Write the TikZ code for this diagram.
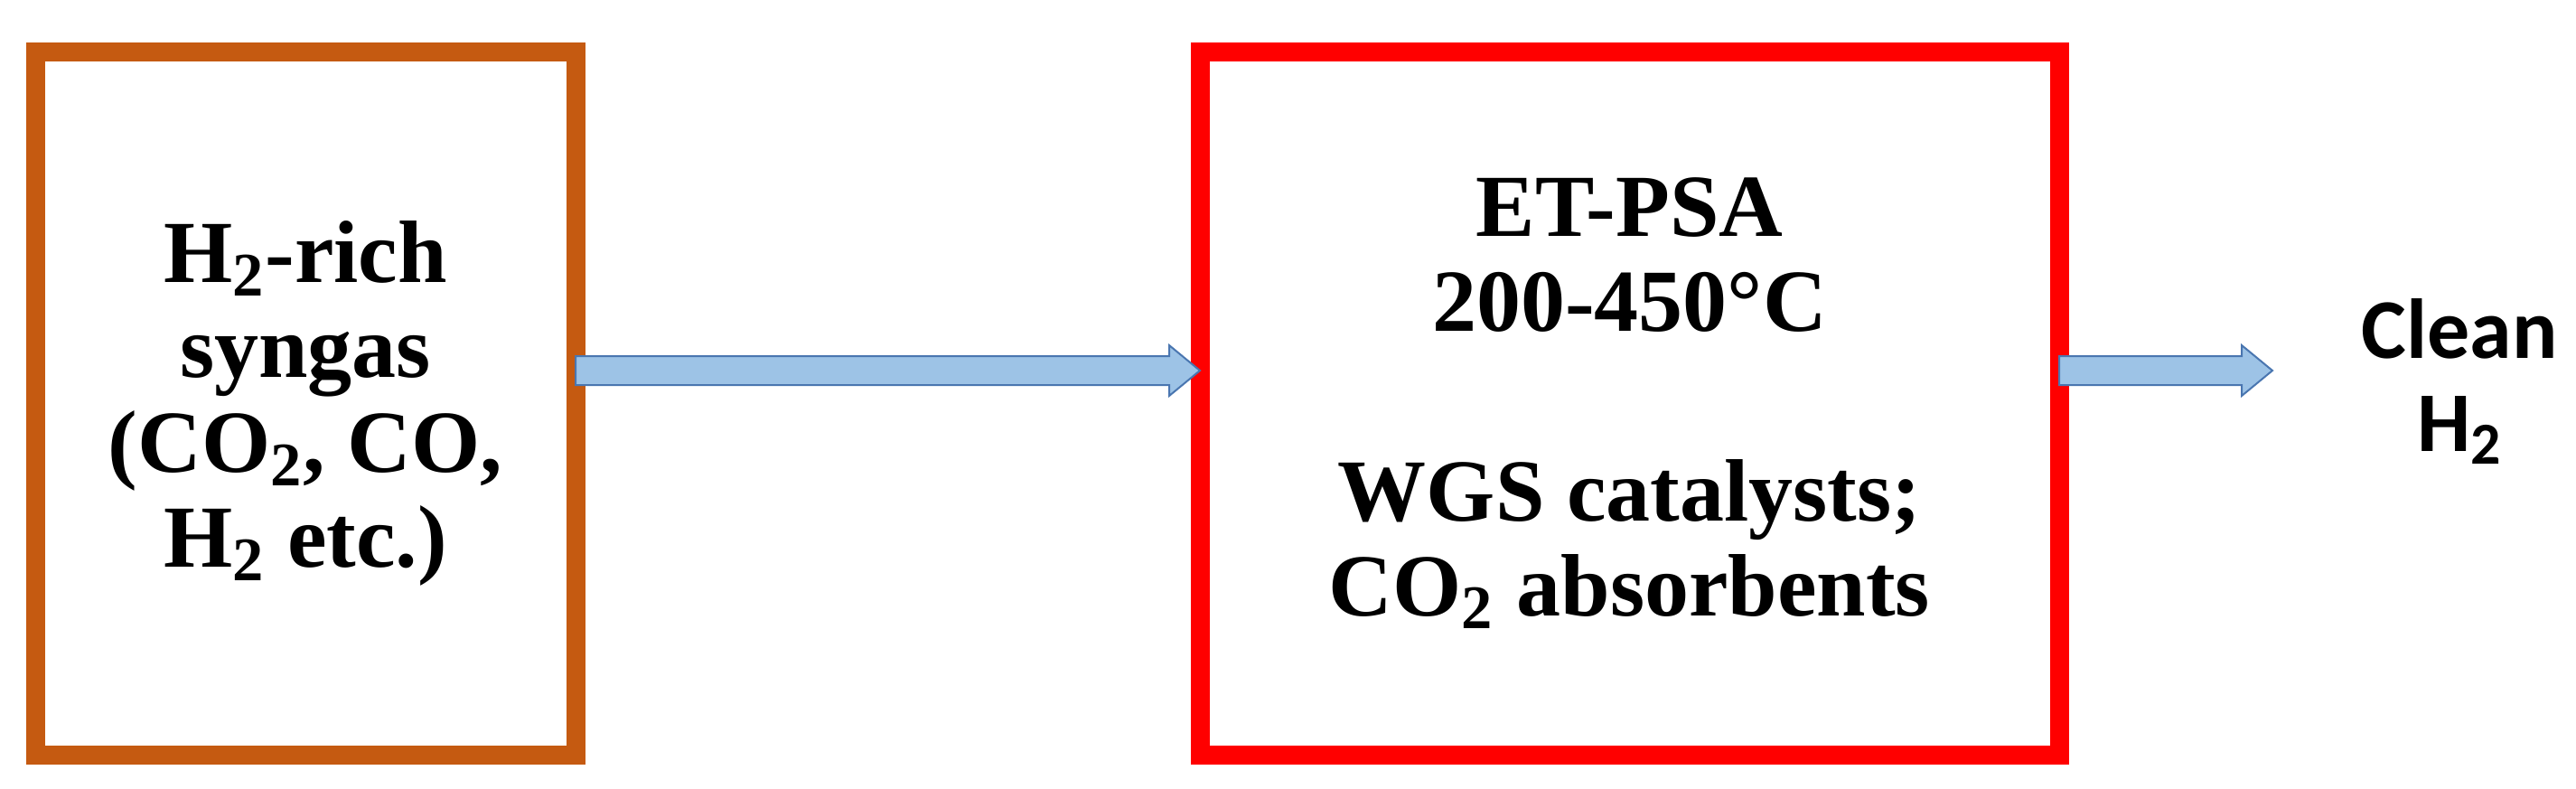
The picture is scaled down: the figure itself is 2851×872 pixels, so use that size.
\documentclass[tikz,border=0pt]{standalone}
\usepackage{fontspec}
\setmainfont{Liberation Serif}
\newfontfamily\calibrifont{Carlito}
\usepackage{tikz}
\usetikzlibrary{calc}
\usetikzlibrary{positioning}

\definecolor{feedorange}{HTML}{C55A11}
\definecolor{arrowfill}{HTML}{9DC3E6}
\definecolor{arrowline}{HTML}{4A76B0}

\newcommand{\flowarrow}[2]{%
  \draw[flow] ($(#1)+(0,-16)$) -- ($(#2)+(-34,-16)$) -- ($(#2)+(-34,-28)$) -- (#2)
    -- ($(#2)+(-34,28)$) -- ($(#2)+(-34,16)$) -- ($(#1)+(0,16)$) -- cycle;}

\begin{document}
\begin{tikzpicture}[x=0.25pt,y=-0.25pt,auto,
                    every text node part/.style={align=center}]
  \tikzstyle{box}=[draw,line width=5.25pt,outer sep=0pt,inner sep=0pt,
                   minimum height=194.5pt,
                   font={\fontsize{24.5}{26.25}\selectfont\bfseries}]
  \tikzstyle{feedbox}=[box,draw=feedorange,minimum width=149.5pt]
  \tikzstyle{reactorbox}=[box,draw=red,minimum width=237.75pt]
  \tikzstyle{outlabel}=[inner sep=0pt,align=left,
                        font={\calibrifont\fontsize{23.5}{25.75}\selectfont\bfseries}]
  \tikzstyle{flow}=[fill=arrowfill,draw=arrowline,line width=0.5pt,line join=miter]

  \useasboundingbox (0,0) rectangle (2851,872);

    \node[feedbox]    (syngas) at (338,446)                   {H\textsubscript{2}-rich\\ syngas\\ (CO\textsubscript{2}, CO,\\ H\textsubscript{2} etc.)};
    \node[reactorbox] (etpsa)  [right = 172.75pt of syngas]   {ET-PSA\\ 200-450°C\\[26.25pt] WGS catalysts;\\ CO\textsubscript{2} absorbents};
    \node[outlabel]   (cleanh) [right = 83.5pt of etpsa.east, yshift=6pt] {Clean\\ H\textsubscript{2}};

    \coordinate (feedout) at ($(syngas.east)+(0,-36)$);
    \coordinate (feedin)  at ($(etpsa.west)+(0,-36)$);
    \coordinate (prodout) at ($(etpsa.east)+(0,-36)$);
    \coordinate (prodend) at ($(etpsa.east)+(236,-36)$);

  \flowarrow{feedout}{feedin}
  \flowarrow{prodout}{prodend}

\end{tikzpicture}
\end{document}
